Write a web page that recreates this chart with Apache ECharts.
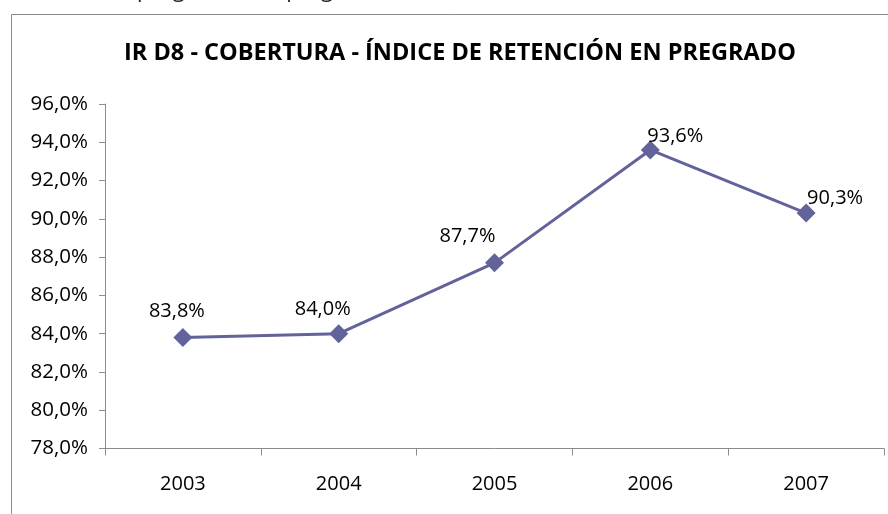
<!DOCTYPE html>
<html>
<head>
<meta charset="utf-8">
<script src="https://cdn.jsdelivr.net/npm/echarts@6/dist/echarts.min.js"></script>
<style>html,body{margin:0;padding:0;background:#fff;}#c{width:888px;height:514px;}</style>
</head>
<body>
<div id="c"></div>
<script>
const years = ['2003', '2004', '2005', '2006', '2007'];
const retention = [83.8, 84.0, 87.7, 93.6, 90.3];
const yTicks = { min: 78, max: 96, interval: 2 };
const titleText = 'IR D8 - COBERTURA - ÍNDICE DE RETENCIÓN EN PREGRADO';
// label offsets (styling only)
const labelOffsets = [[-6, -26], [-16, -24], [-27, -27], [25, -14], [29, -15]];

const FONT = '"Open Sans", "Noto Sans", sans-serif';
const chart = echarts.init(document.getElementById('c'), null, { renderer: 'canvas' });
const fmt = v => v.toFixed(1).replace('.', ',') + '%';

chart.setOption({
  animation: false,
  backgroundColor: '#fff',
  title: {
    text: titleText,
    left: 455, top: 36, textAlign: 'center',
    textStyle: { fontFamily: FONT, fontWeight: 'bold', fontSize: 23.5, color: '#000' }
  },
  graphic: [
    { type: 'rect', shape: { x: 11.5, y: 14.5, width: 1000, height: 1000 }, style: { fill: 'none', stroke: '#8c8c8c', lineWidth: 1 }, silent: true },
    { type: 'text', x: 137, y: 1.5, style: { text: 'programas de pregrado', font: '22px ' + FONT, fill: '#222', textVerticalAlign: 'bottom', textAlign: 'left' } },
    { type: 'text', x: 134, y: 1.5, style: { text: 'de retención en', font: '22px ' + FONT, fill: '#222', textVerticalAlign: 'bottom', textAlign: 'right' } }
  ],
  grid: { left: 105, right: 4, top: 104, bottom: 65.5 },
  xAxis: {
    type: 'category', data: years, boundaryGap: true,
    axisLine: { lineStyle: { color: '#8c8c8c', width: 1 } },
    axisTick: { show: true, length: 7, lineStyle: { color: '#8c8c8c' } },
    axisLabel: { margin: 26, fontFamily: FONT, fontSize: 20, color: '#000' },
    splitLine: { show: false }
  },
  yAxis: {
    type: 'value', min: yTicks.min, max: yTicks.max, interval: yTicks.interval,
    axisLine: { show: true, lineStyle: { color: '#8c8c8c', width: 1 } },
    axisTick: { show: true, length: 6, lineStyle: { color: '#8c8c8c' } },
    axisLabel: { margin: 17, fontFamily: FONT, fontSize: 20.5, color: '#000', formatter: v => fmt(v) },
    splitLine: { show: false }
  },
  series: [{
    type: 'line',
    data: retention.map((v, i) => ({
      value: v,
      label: { offset: labelOffsets[i] }
    })),
    symbol: 'diamond', symbolSize: [19, 19],
    lineStyle: { color: '#63639b', width: 3 },
    itemStyle: { color: '#63639b' },
    label: {
      show: true, position: 'inside', align: 'center', verticalAlign: 'middle',
      fontFamily: FONT, fontSize: 20, color: '#000',
      formatter: p => fmt(p.value)
    }
  }]
});
</script>
</body>
</html>
